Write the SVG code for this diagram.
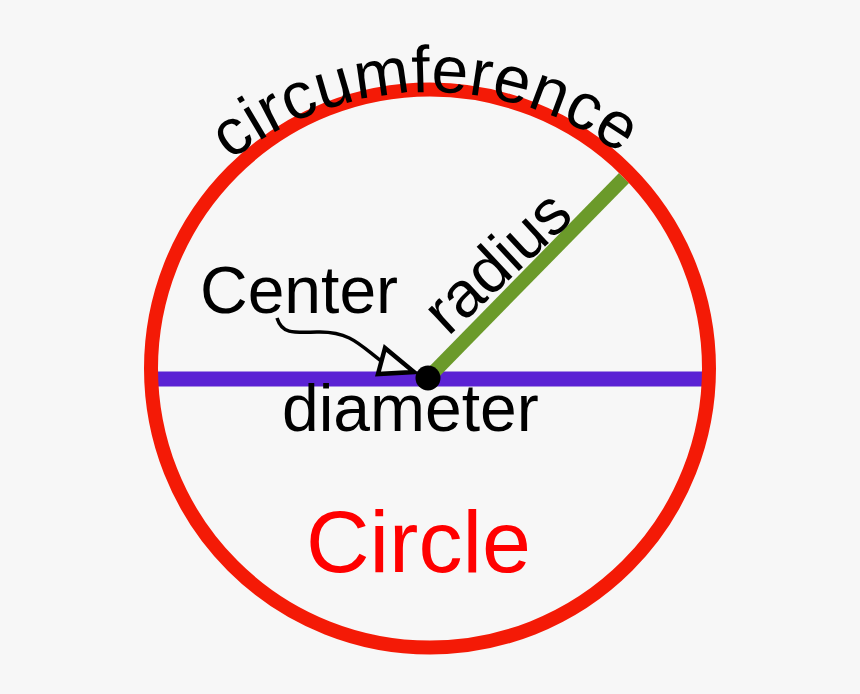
<svg xmlns="http://www.w3.org/2000/svg" width="860" height="694" viewBox="0 0 860 694">
<style>
.lbl{font-family:"Liberation Sans",Arial,sans-serif;fill:#000}
</style>
<defs>
<path id="arc" d="M 107,415 A 323 323 0 0 1 753,415"/>
</defs>
<rect x="0" y="0" width="860" height="694" fill="#f7f7f7"/>
<g id="connectors">
<line id="diameter-line" x1="151" y1="379" x2="709" y2="379" stroke="#5b22d4" stroke-width="15"/>
<line id="radius-line" x1="428" y1="378" x2="624" y2="178" stroke="#6b9a2a" stroke-width="14"/>
<path id="center-pointer" d="M 277,318 C 282,334 292,333 320,332 C 350,332 360,345 381,361" fill="none" stroke="#000" stroke-width="3.5"/>
<polygon points="385,348 378,374 414,372" fill="#f7f7f7" stroke="#000" stroke-width="4.5" stroke-linejoin="miter"/>
</g>
<g id="circle">
<circle cx="430" cy="368.5" r="279" fill="none" stroke="#f41a06" stroke-width="14"/>
</g>
<g id="center-dot">
<circle cx="428" cy="378" r="12.5" fill="#000"/>
</g>
<g id="circumference-label">
<text class="lbl" font-size="66" letter-spacing="0.4"><textPath href="#arc" startOffset="49.5%" text-anchor="middle">circumference</textPath></text>
</g>
<g id="radius-label">
<text class="lbl" font-size="64" transform="translate(448,337) rotate(-43)">radius</text>
</g>
<g id="center-label">
<text class="lbl" x="200" y="313" font-size="66">Center</text>
</g>
<g id="diameter-label">
<text class="lbl" x="282" y="431" font-size="66">diameter</text>
</g>
<g id="title">
<text x="306" y="572" font-size="88" font-family="'Liberation Sans',Arial,sans-serif" fill="#ff0000">Circle</text>
</g>
</svg>
